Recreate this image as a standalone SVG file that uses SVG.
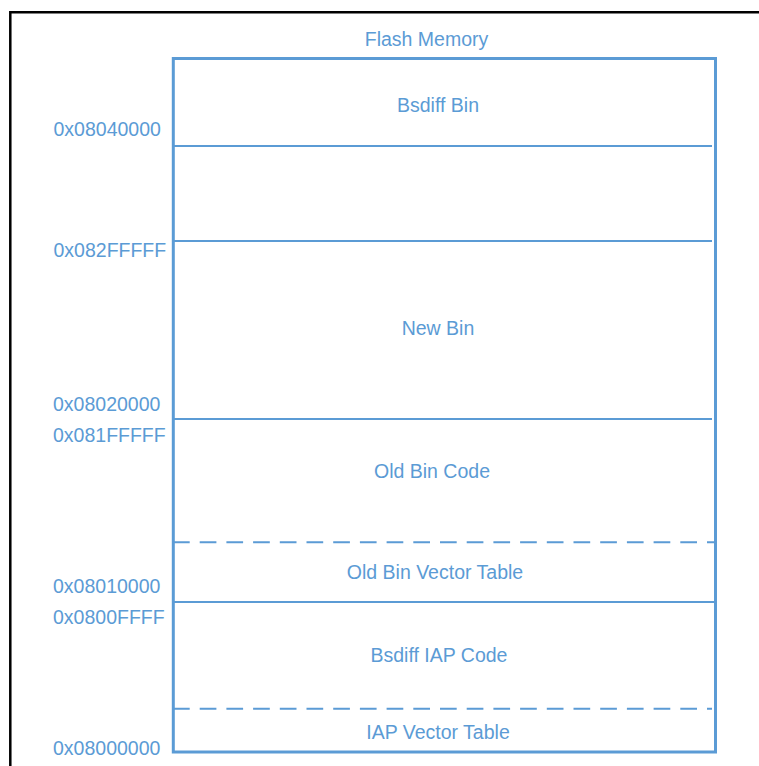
<svg xmlns="http://www.w3.org/2000/svg" width="759" height="766" viewBox="0 0 759 766">
  <style>
    .frame { fill: none; stroke: #000; stroke-width: 2.5; }
    .mem { fill: none; stroke: #5B9BD5; stroke-width: 3; }
    .sep { stroke: #5B9BD5; stroke-width: 2; fill: none; }
    .dash { stroke-dasharray: 16.7 10; }
    text { font-family: "Liberation Sans", Arial, sans-serif; font-size: 19.5px; fill: #5B9BD5; }
    .c { text-anchor: middle; }
  </style>
  <rect width="759" height="766" fill="#fff"/>
  <!-- outer frame -->
  <path class="frame" d="M10.3,766 V12.3 H759"/>

  <g id="flash-title">
    <text class="c" x="426.5" y="46">Flash Memory</text>
  </g>

  <!-- memory column outline -->
  <g id="flash-block">
    <rect class="mem" x="173.3" y="58.5" width="542.2" height="693.5"/>
  </g>

  <!-- region boundaries -->
  <g id="boundaries">
    <line class="sep" x1="173" y1="146" x2="712" y2="146"/>
    <line class="sep" x1="173" y1="241" x2="712" y2="241"/>
    <line class="sep" x1="173" y1="419" x2="712" y2="419"/>
    <line class="sep dash" x1="173" y1="542.2" x2="715" y2="542.2"/>
    <line class="sep" x1="173" y1="602" x2="715" y2="602"/>
    <line class="sep dash" x1="173" y1="708.8" x2="712" y2="708.8"/>
  </g>

  <g id="region-bsdiff-bin"><text class="c" x="438" y="112">Bsdiff Bin</text></g>
  <g id="region-new-bin"><text class="c" x="438" y="335">New Bin</text></g>
  <g id="region-old-bin-code"><text class="c" x="432" y="478">Old Bin Code</text></g>
  <g id="region-old-bin-vectors"><text class="c" x="435" y="579">Old Bin Vector Table</text></g>
  <g id="region-iap-code"><text class="c" x="439" y="662">Bsdiff IAP Code</text></g>
  <g id="region-iap-vectors"><text class="c" x="438" y="739">IAP Vector Table</text></g>

  <!-- address labels -->
  <g id="addresses">
    <text x="53.5" y="136">0x08040000</text>
    <text x="53.5" y="257">0x082FFFFF</text>
    <text x="53" y="411">0x08020000</text>
    <text x="53" y="442">0x081FFFFF</text>
    <text x="53" y="593">0x08010000</text>
    <text x="53" y="624">0x0800FFFF</text>
    <text x="53" y="755">0x08000000</text>
  </g>
</svg>
